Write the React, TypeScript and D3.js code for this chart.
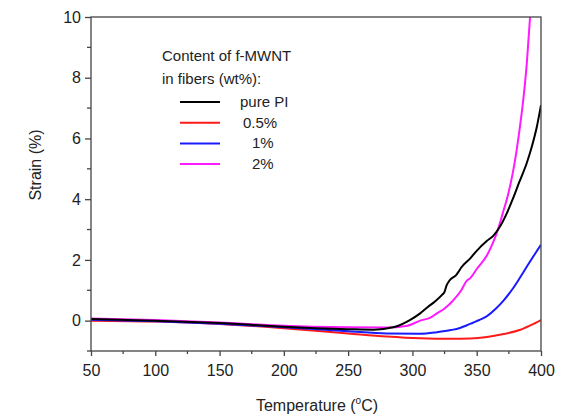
import React, { useEffect, useRef } from 'react';
import * as d3 from 'd3';

// temperature (°C) / strain (%)
const pureTemp = [50, 100, 150, 200, 250, 270, 285, 298, 306, 312, 318, 323, 325, 326.5, 329, 334, 336, 338, 345, 350, 357.8, 363, 368, 373, 378, 383, 389, 393, 396.6, 400];
const pureStrain = [0.05, 0.0, -0.08, -0.2, -0.28, -0.3, -0.22, 0.02, 0.24, 0.45, 0.65, 0.85, 0.95, 1.15, 1.33, 1.5, 1.62, 1.75, 2.05, 2.3, 2.62, 2.8, 3.09, 3.5, 4.0, 4.55, 5.2, 5.75, 6.35, 7.1];

const halfTemp = [50, 100, 150, 200, 250, 280, 306, 330, 345, 358, 370, 384, 392, 400];
const halfStrain = [0.0, -0.03, -0.11, -0.25, -0.42, -0.52, -0.58, -0.6, -0.59, -0.54, -0.45, -0.3, -0.15, 0.02];

const oneTemp = [50, 100, 150, 200, 250, 280, 306, 319, 330, 337, 342, 347, 352, 358, 365, 371, 378, 384, 390, 395, 400];
const oneStrain = [0.03, -0.02, -0.1, -0.22, -0.35, -0.42, -0.43, -0.38, -0.31, -0.24, -0.16, -0.07, 0.02, 0.15, 0.4, 0.67, 1.05, 1.44, 1.85, 2.18, 2.5];

const twoTemp = [50, 100, 150, 200, 250, 280, 295, 306, 314, 319, 325, 332, 338, 342, 345, 350, 358, 362, 366.8, 370, 374.6, 378, 381, 383.5, 386.2, 389, 391.5, 393];
const twoStrain = [0.07, 0.02, -0.06, -0.17, -0.22, -0.23, -0.18, 0.0, 0.1, 0.24, 0.4, 0.68, 1.0, 1.3, 1.4, 1.7, 2.15, 2.5, 3.04, 3.5, 4.19, 4.85, 5.6, 6.35, 7.27, 8.5, 10, 11];

const seriesNames = ['pure PI', '0.5%', '1%', '2%'];
const seriesColors = ['#000000', '#ff1a1a', '#1a1aff', '#ff1aff'];
const xTicks = [50, 100, 150, 200, 250, 300, 350, 400];
const yTicks = [0, 2, 4, 6, 8, 10];

const App = () => {
  const ref = useRef<SVGSVGElement>(null);

  useEffect(() => {
    const svg = d3.select(ref.current);
    svg.selectAll('*').remove();

    const left = 91, right = 541, top = 17, bottom = 351;
    const font = 'Arial, "Liberation Sans", sans-serif';

    const x = d3.scaleLinear().domain([50, 400]).range([left, right]);
    const y = d3.scaleLinear().domain([-1, 10]).range([bottom, top]);

    svg.append('defs').append('clipPath').attr('id', 'plot-clip')
      .append('rect')
      .attr('x', left).attr('y', top)
      .attr('width', right - left).attr('height', bottom - top);

    // curves
    const data = [
      [pureTemp, pureStrain],
      [halfTemp, halfStrain],
      [oneTemp, oneStrain],
      [twoTemp, twoStrain]
    ];
    const line = d3.line<[number, number]>()
      .x(d => x(d[0]))
      .y(d => y(d[1]))
      .curve(d3.curveMonotoneX);

    const curves = svg.append('g').attr('clip-path', 'url(#plot-clip)');
    // draw in order so magenta and black sit on top like the figure
    [1, 2, 3, 0].forEach(i => {
      const pts = data[i][0].map((t, k) => [t, data[i][1][k]] as [number, number]);
      curves.append('path')
        .attr('d', line(pts))
        .attr('fill', 'none')
        .attr('stroke', seriesColors[i])
        .attr('stroke-width', 2)
        .attr('stroke-linejoin', 'round');
    });

    // frame
    svg.append('rect')
      .attr('x', left).attr('y', top)
      .attr('width', right - left).attr('height', bottom - top)
      .attr('fill', 'none')
      .attr('stroke', '#444')
      .attr('stroke-width', 1.3);

    // x axis
    const xAxis = svg.append('g')
      .attr('transform', `translate(0,${bottom})`)
      .call(d3.axisBottom(x).tickValues(xTicks).tickSize(5).tickFormat(d3.format('d')));
    xAxis.select('.domain').remove();
    xAxis.selectAll('line').attr('stroke', '#444').attr('stroke-width', 1.3);
    xAxis.selectAll('text')
      .attr('font-family', font).attr('font-size', 16).attr('fill', '#222')
      .attr('dy', '1.05em');
    d3.range(75, 400, 50).forEach(t => {
      svg.append('line')
        .attr('x1', x(t)).attr('x2', x(t))
        .attr('y1', bottom).attr('y2', bottom + 3)
        .attr('stroke', '#444').attr('stroke-width', 1.3);
    });

    // y axis
    const yAxis = svg.append('g')
      .attr('transform', `translate(${left},0)`)
      .call(d3.axisLeft(y).tickValues(yTicks).tickSize(6).tickPadding(4).tickFormat(d3.format('d')));
    yAxis.select('.domain').remove();
    yAxis.selectAll('line').attr('stroke', '#444').attr('stroke-width', 1.3);
    yAxis.selectAll('text')
      .attr('font-family', font).attr('font-size', 16).attr('fill', '#222');
    [-1, 1, 3, 5, 7, 9].forEach(v => {
      svg.append('line')
        .attr('x1', left - 4).attr('x2', left)
        .attr('y1', y(v)).attr('y2', y(v))
        .attr('stroke', '#444').attr('stroke-width', 1.3);
    });

    // axis titles
    const xt = svg.append('text')
      .attr('x', (left + right) / 2 + 1).attr('y', 411)
      .attr('text-anchor', 'middle')
      .attr('font-family', font).attr('font-size', 16).attr('fill', '#222');
    xt.append('tspan').text('Temperature (');
    xt.append('tspan').attr('font-size', 10).attr('dy', -7).text('o');
    xt.append('tspan').attr('dy', 7).text('C)');

    svg.append('text')
      .attr('transform', 'translate(41,165) rotate(-90)')
      .attr('text-anchor', 'middle')
      .attr('font-family', font).attr('font-size', 16).attr('fill', '#222')
      .text('Strain (%)');

    // legend
    const lg = svg.append('g').attr('font-family', font).attr('font-size', 15).attr('fill', '#222');
    lg.append('text').attr('x', 162).attr('y', 61).text('Content of f-MWNT');
    lg.append('text').attr('x', 162).attr('y', 84).text('in fibers (wt%):');
    const legendX = [240, 243, 252, 252];
    seriesNames.forEach((name, i) => {
      const ly = 102 + i * 20.7;
      lg.append('line')
        .attr('x1', 180).attr('x2', 220)
        .attr('y1', ly).attr('y2', ly)
        .attr('stroke', seriesColors[i]).attr('stroke-width', 2);
      lg.append('text').attr('x', legendX[i]).attr('y', ly + 5).text(name);
    });
  }, []);

  return (
    <svg ref={ref} width={563} height={417}
      style={{ position: 'absolute', left: 0, top: 0, background: '#fff' }} />
  );
};

export default App;
